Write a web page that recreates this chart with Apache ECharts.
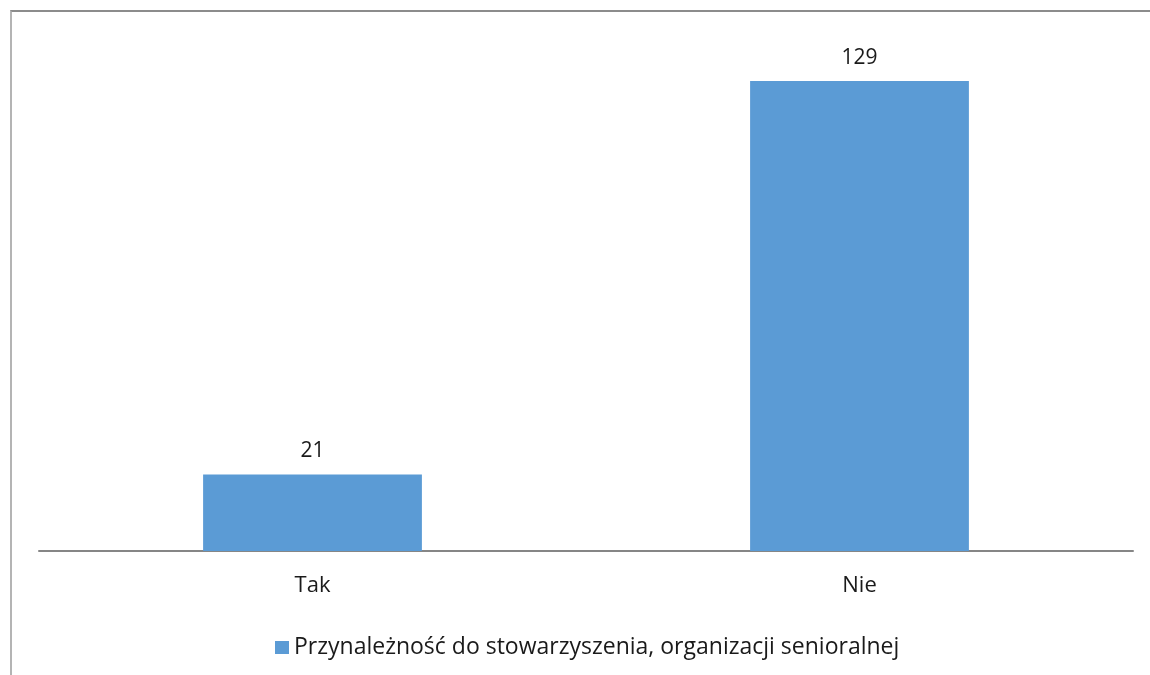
<!DOCTYPE html>
<html>
<head>
<meta charset="utf-8">
<script src="https://cdn.jsdelivr.net/npm/echarts@6/dist/echarts.min.js"></script>
<style>
  html, body { margin: 0; padding: 0; background: #fff; }
  #frame {
    position: absolute; left: 10px; top: 10px; width: 1140px; height: 665px;
    border-top: 2px solid #8c8c8c; border-left: 2px solid #b4b4b4;
  }
  #chart { position: absolute; left: 0; top: 0; width: 1150px; height: 675px; }
</style>
</head>
<body>
<div id="frame"></div>
<div id="chart"></div>
<script>
/* data */
var categories = ["Tak", "Nie"];
var values = [21, 129];
var seriesName = "Przynależność do stowarzyszenia, organizacji senioralnej";

var dom = document.getElementById("chart");
var myChart = echarts.init(dom, null, { renderer: "canvas" });

var font = "'Open Sans', 'Liberation Sans', sans-serif";

var option = {
  animation: false,
  textStyle: { fontFamily: font },
  grid: { left: 39, right: 17, top: 41, bottom: 124 },
  legend: {
    top: 631,
    left: 270,
    itemWidth: 14,
    itemHeight: 13,
    icon: "rect",
    textStyle: { fontSize: 23, color: "#1a1a1a", fontFamily: font },
    data: [seriesName],
  },
  xAxis: {
    type: "category",
    data: categories,
    axisLine: { lineStyle: { color: "#868686", width: 2 } },
    axisTick: { show: false },
    axisLabel: { fontSize: 22, color: "#1a1a1a", margin: 24, fontFamily: font },
  },
  yAxis: {
    type: "value",
    min: 0,
    max: 140,
    interval: 20,
    show: false,
    splitLine: { show: false },
  },
  series: [
    {
      name: seriesName,
      type: "bar",
      data: values,
      barWidth: "40%",
      itemStyle: { color: "#5b9bd5" },
      label: {
        show: true,
        position: "top",
        distance: 13,
        fontSize: 21,
        color: "#1a1a1a",
        fontFamily: font,
      },
    },
  ],
};

myChart.setOption(option);
window.addEventListener("resize", myChart.resize);
</script>
</body>
</html>
